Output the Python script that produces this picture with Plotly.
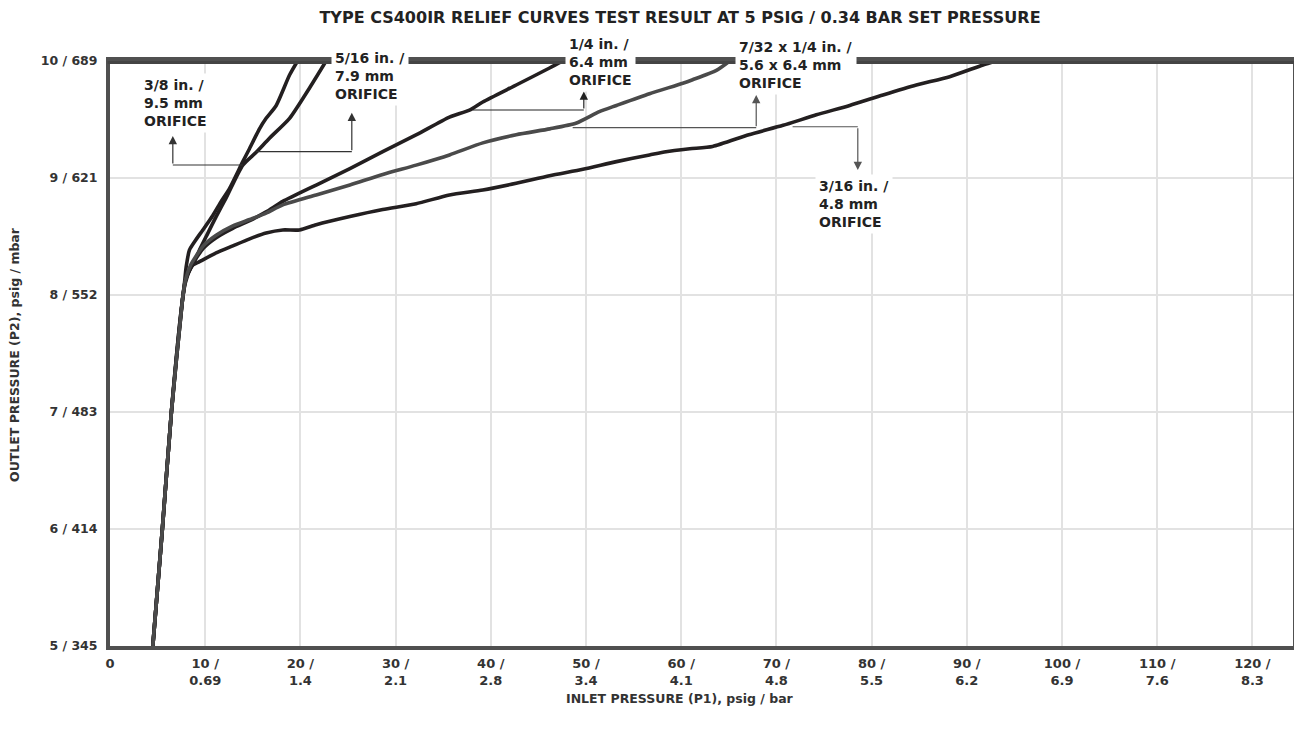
import plotly.graph_objects as go

# ---------------- data ----------------
trunk_x = [4.5, 5.5, 6.45, 7.6]
trunk_y = [5.0, 6.0, 7.0, 7.95]

o38_x = [7.82, 8.0, 8.35, 8.88, 9.75, 10.8, 11.68, 12.55, 13.95, 14.65, 15.7, 16.4, 17.46, 18.86, 19.7]
o38_y = [8.1, 8.24, 8.385, 8.455, 8.556, 8.68, 8.80, 8.91, 9.14, 9.25, 9.42, 9.51, 9.62, 9.88, 10.0]

o516_x = [7.9, 8.3, 8.7, 9.4, 10.27, 11.15, 12.2, 13.95, 15.36, 16.75, 18.86, 20.96, 22.7]
o516_y = [8.12, 8.2, 8.26, 8.385, 8.527, 8.67, 8.83, 9.11, 9.22, 9.34, 9.51, 9.77, 10.0]

o14_x = [7.9, 8.5, 9.1, 9.8, 11.15, 12.9, 14.67, 16.4, 18.15, 21.66, 25.2, 28.65, 32.2, 35.66,
         37.76, 39.16, 42.67, 46.17, 47.56]
o14_y = [8.1, 8.24, 8.32, 8.40, 8.49, 8.57, 8.635, 8.71, 8.80, 8.94, 9.08, 9.225, 9.37, 9.52,
         9.58, 9.65, 9.795, 9.94, 10.0]

o732_x = [7.9, 8.5, 9.1, 9.8, 11.15, 12.9, 14.67, 16.4, 18.15, 21.66, 25.2, 28.65, 32.16, 35.66,
          39.16, 42.67, 46.2, 49.0, 51.4, 53.2, 56.67, 60.17, 61.2, 63.7, 65.1]
o732_y = [8.12, 8.26, 8.34, 8.42, 8.51, 8.59, 8.645, 8.70, 8.77, 8.855, 8.94, 9.03, 9.11, 9.197,
          9.30, 9.37, 9.42, 9.47, 9.567, 9.62, 9.72, 9.81, 9.84, 9.92, 10.0]

o316_x = [8.0, 8.6, 9.4, 11.15, 12.9, 14.67, 16.4, 18.15, 19.9, 21.66, 25.2, 28.65, 32.16, 35.66,
          39.16, 42.67, 46.17, 49.67, 53.2, 56.67, 58.4, 60.9, 63.3, 67.1, 70.7, 74.2, 77.7,
          81.2, 84.7, 88.2, 91.7, 93.1]
o316_y = [8.15, 8.25, 8.285, 8.36, 8.42, 8.48, 8.53, 8.556, 8.556, 8.6, 8.67, 8.73, 8.78, 8.855,
          8.897, 8.955, 9.02, 9.075, 9.14, 9.197, 9.225, 9.25, 9.27, 9.37, 9.45, 9.54, 9.62,
          9.71, 9.795, 9.866, 9.966, 10.0]

x_tick_vals = [0, 10, 20, 30, 40, 50, 60, 70, 80, 90, 100, 110, 120]
x_bar_labels = ["", "0.69", "1.4", "2.1", "2.8", "3.4", "4.1", "4.8", "5.5", "6.2", "6.9", "7.6", "8.3"]
y_tick_vals = [5, 6, 7, 8, 9, 10]
y_mbar_labels = ["345", "414", "483", "552", "621", "689"]

labels = {
    "3/8": "3/8 in. /<br>9.5 mm<br>ORIFICE",
    "5/16": "5/16 in. /<br>7.9 mm<br>ORIFICE",
    "1/4": "1/4 in. /<br>6.4 mm<br>ORIFICE",
    "7/32": "7/32 x 1/4 in. /<br>5.6 x 6.4 mm<br>ORIFICE",
    "3/16": "3/16 in. /<br>4.8 mm<br>ORIFICE",
}

# ---------------- styling ----------------
FONT = "DejaVu Sans, Arial, sans-serif"
BLACK = "#231f20"
GRAY = "#4a4a4a"
OFF = 8  # page offset of the figure (default body margin)
W, H = 1302 - OFF, 735 - 2 * OFF
# plot area on the page: x 110..1293 (visible part), y 61..646
PL, PR, PT, PB = 110, 1293, 61, 646
PX_PER_UNIT = 1190 / 125  # scale of the reference x axis
X_MAX = (PR - PL) / PX_PER_UNIT
L = PL - OFF
T = PT - OFF
R = W - (PR - OFF)
B = H - (PB - OFF)
PW, PH = PR - PL, PB - PT


def px(xpix):
    return (xpix - PL) / PW


def py(ypix):
    return (PB - ypix) / PH


fig = go.Figure()

series = [
    (o38_x, o38_y, BLACK),
    (o516_x, o516_y, BLACK),
    (o14_x, o14_y, BLACK),
    (o316_x, o316_y, BLACK),
    (o732_x, o732_y, GRAY),
]
for xs, ys, col in series:
    fig.add_trace(go.Scatter(
        x=trunk_x + xs, y=trunk_y + ys, mode="lines",
        line=dict(color=col, width=3.6, shape="spline", smoothing=0.6),
        showlegend=False, hoverinfo="skip",
    ))

x_ticktext = [str(v) if lab == "" else f"{v} /<br>{lab}" for v, lab in zip(x_tick_vals, x_bar_labels)]
y_ticktext = [f"{v} / {m}" for v, m in zip(y_tick_vals, y_mbar_labels)]

tickfont = dict(family=FONT, size=12.5, color="#333333", weight="bold")
xtickfont = dict(family=FONT, size=13, color="#333333", weight="bold")

fig.update_xaxes(
    range=[0, X_MAX], tickvals=x_tick_vals, ticktext=x_ticktext, tickfont=xtickfont,
    showgrid=True, gridcolor="#e2e2e2", gridwidth=2, zeroline=False,
    showline=True, linecolor="#505050", linewidth=4, mirror=True, ticks="",
    ticklabelstandoff=2, automargin=False,
)
fig.update_yaxes(
    range=[5, 10], tickvals=y_tick_vals, ticktext=y_ticktext, tickfont=tickfont,
    showgrid=True, gridcolor="#e2e2e2", gridwidth=2, zeroline=False,
    showline=True, linecolor="#505050", linewidth=4, mirror=True, ticks="",
    ticklabelstandoff=6, automargin=False,
)

# thick top line at 10 psig
fig.add_shape(type="line", xref="paper", yref="y", x0=-0.002, x1=1.002, y0=10, y1=10,
              line=dict(color="#444444", width=6), layer="above")
# light inner stripe of the left / bottom frame
fig.add_shape(type="line", xref="x", yref="paper", xsizemode="pixel", xanchor=0,
              x0=-2, x1=-2, y0=-0.004, y1=1.0, line=dict(color="#c8c8c8", width=1), layer="above")
fig.add_shape(type="line", xref="paper", yref="y", ysizemode="pixel", yanchor=5,
              y0=-2, y1=-2, x0=-0.001, x1=1.0, line=dict(color="#c8c8c8", width=1), layer="above")

# connectors: horizontal from the curve to a corner, then an arrow to the label
connectors = [
    # x_curve, x_corner, y_h, y_tip, color
    (13.95, 6.6, 9.111, 9.36, "#333333"),
    (15.36, 25.4, 9.225, 9.558, "#333333"),
    (38.1, 49.77, 9.581, 9.74, "#222222"),
    (48.6, 67.88, 9.43, 9.71, "#555555"),
    (71.7, 78.55, 9.438, 9.068, "#555555"),
]
for xc, xk, yh, yt, col in connectors:
    fig.add_shape(type="line", xref="x", yref="y", x0=xc, x1=xk, y0=yh, y1=yh,
                  line=dict(color=col, width=1.2), layer="above")
    fig.add_annotation(x=xk, y=yt, ax=xk, ay=yh, xref="x", yref="y", axref="x", ayref="y",
                       text="", showarrow=True, arrowhead=2, arrowsize=1.4, arrowwidth=1.2,
                       arrowcolor=col, standoff=0, startstandoff=0)

labfont = dict(family=FONT, size=14, color="#222222", weight="bold")
label_pos = [
    ("3/8", 140, 102.7),
    ("5/16", 331, 75.7),
    ("1/4", 565, 62.5),
    ("7/32", 735, 65.0),
    ("3/16", 815, 204.0),
]
for key, lx, ly in label_pos:
    fig.add_annotation(x=px(lx), y=py(ly), xref="paper", yref="paper", text=labels[key],
                       showarrow=False, xanchor="left", yanchor="middle", align="left",
                       font=labfont, bgcolor="white", borderpad=3)

# axis titles
fig.add_annotation(x=px(680), y=py(698), xref="paper", yref="paper",
                   xanchor="center", yanchor="middle",
                   text="INLET PRESSURE (P1), psig / bar", showarrow=False,
                   font=dict(family=FONT, size=12.5, color="#333333", weight="bold"))
fig.add_annotation(x=px(14), y=py(355), xref="paper", yref="paper",
                   xanchor="center", yanchor="middle",
                   text="OUTLET PRESSURE (P2), psig / mbar", showarrow=False, textangle=-90,
                   font=dict(family=FONT, size=12.5, color="#333333", weight="bold"))

fig.update_layout(
    width=W, height=H,
    margin=dict(l=L, r=R, t=T, b=B, autoexpand=False),
    plot_bgcolor="white", paper_bgcolor="white",
    title=dict(text="TYPE CS400IR RELIEF CURVES TEST RESULT AT 5 PSIG / 0.34 BAR SET PRESSURE",
               x=(680 - OFF) / W, xanchor="center", y=1 - (17 - OFF) / H, yanchor="middle",
               font=dict(family=FONT, size=16, color="#222222", weight="bold")),
)

fig.write_html("out.html")
